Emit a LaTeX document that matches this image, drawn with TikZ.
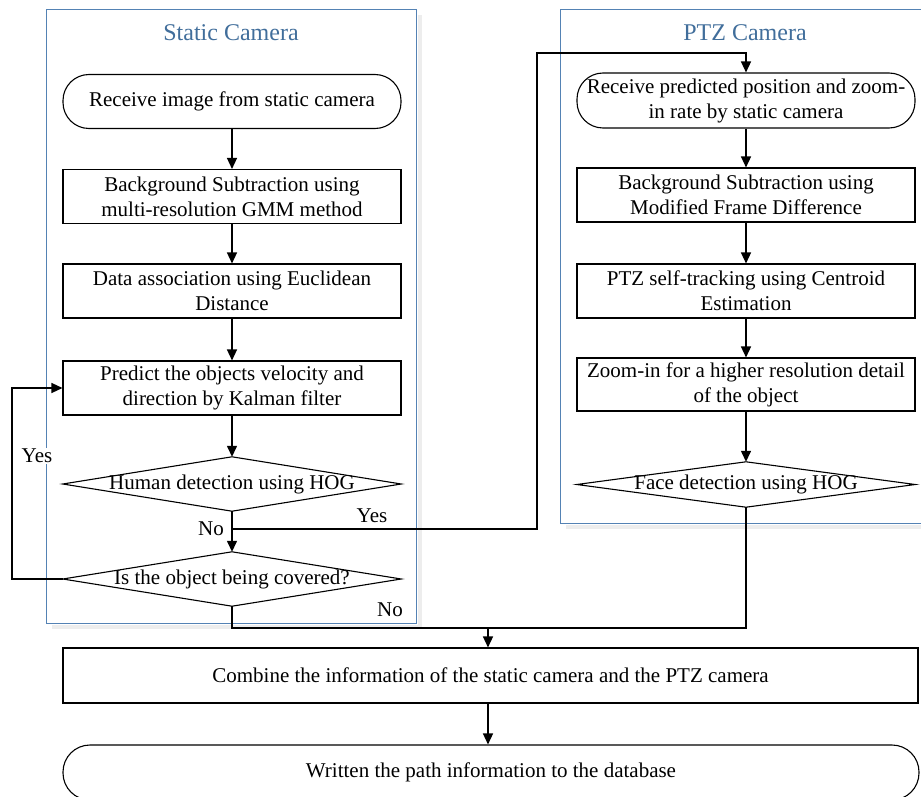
\documentclass[tikz,border=0pt]{standalone}
\usepackage{fontspec}
\setmainfont{Liberation Serif}
\usetikzlibrary{arrows.meta,calc}
\definecolor{cbox}{RGB}{84,130,180}
\definecolor{ctitle}{RGB}{65,110,155}
\begin{document}
\begin{tikzpicture}[x=1pt,y=-1pt,
  font=\fontsize{21}{25}\selectfont,
  proc/.style={draw,line width=1.1pt,minimum width=338pt,minimum height=54pt,align=center,inner sep=2pt},
  term/.style={proc,rounded corners=26pt},
  dec/.style={minimum width=338pt,minimum height=54pt,inner sep=0pt,align=center},
  conn/.style={line width=1.4pt,-{Triangle[length=11pt,width=10pt]}},
  wire/.style={line width=1.4pt},
  lab/.style={fill=white,inner sep=1pt},
  group/.style={draw=cbox,line width=1pt,inner sep=0pt,anchor=north west},
  gshadow/.style={draw=black!7,line width=4pt},
  gtitle/.style={text=ctitle,font=\fontsize{24}{28}\selectfont}]
\useasboundingbox (0,0) rectangle (921,797);
% containers
\node[group,minimum width=370pt,minimum height=614pt] (sc) at (46,9) {};
\node[group,minimum width=370pt,minimum height=514pt] (pc) at (560,9) {};
\draw[gshadow] ($(sc.north east)+(2.5,6)$) -- ($(sc.south east)+(2.5,2.5)$) -- ($(sc.south west)+(6,2.5)$);
\draw[gshadow] ($(pc.south east)+(2.5,2.5)$) -- ($(pc.south west)+(6,2.5)$);
\node[gtitle] (st) at (231,33) {Static Camera};
\node[gtitle] (pt) at (745,33) {PTZ Camera};
% static column
\node[term] (s1) at (232,101.5) {Receive image from static camera};
\node[proc] (s2) at (232,196.5) {Background Subtraction using\\multi-resolution GMM method};
\node[proc] (s3) at (232,291) {Data association using Euclidean\\Distance};
\node[proc] (s4) at (232,388) {Predict the objects velocity and\\direction by Kalman filter};
\node[dec] (s5) at (232,484) {Human detection using HOG};
\node[dec] (s6) at (232,579) {Is the object being covered?};
% PTZ column
\node[term,minimum height=55pt] (p1) at (746,100.5) {Receive predicted position and zoom-\\in rate by static camera};
\node[proc] (p2) at (746,195) {Background Subtraction using\\Modified Frame Difference};
\node[proc] (p3) at (746,291) {PTZ self-tracking using Centroid\\Estimation};
\node[proc,minimum height=53pt] (p4) at (746,384.5) {Zoom-in for a higher resolution detail\\of the object};
\node[dec,minimum height=45pt] (p5) at (746,484.5) {Face detection using HOG};
% bottom
\node[proc,minimum width=855pt,minimum height=55pt] (c1) at (490.5,675.5) {Combine the information of the static camera and the PTZ camera};
\node[term,minimum width=856pt,minimum height=55pt,rounded corners=27pt] (e1) at (491,772.5) {Written the path information to the database};
% diamonds
\foreach \d in {s5,s6,p5}
  \draw[line width=1.1pt] (\d.west)--(\d.north)--(\d.east)--(\d.south)--cycle;
% connectors
\draw[conn] (s1) -- (s2);
\draw[conn] (s2) -- (s3);
\draw[conn] (s3) -- (s4);
\draw[conn] (s4) -- (s5.north);
\draw[conn] (s5.south) -- (s6.north);
\draw[conn] (p1) -- (p2);
\draw[conn] (p2) -- (p3);
\draw[conn] (p3) -- (p4);
\draw[conn] (p4) -- (p5.north);
\coordinate (b) at (232,529);
\coordinate (r1) at (537,529);
\coordinate (r2) at (537,53);
\draw[conn] (b) -- (r1) -- (r2) -| (p1.north);
\coordinate (lx) at (12,579);
\draw[conn] (s6.west) -- (lx) |- (s4.west);
\coordinate (m) at (488,628);
\draw[wire] (s6.south) |- (m) -| (p5.south);
\draw[conn] (m) -- (m |- c1.north);
\draw[conn] (c1.south -| m) -- (m |- e1.north);
% labels
\node[lab] (ly1) at (37,456) {Yes};
\node (ln1) at (211,529) {No};
\node (ly2) at (372,516) {Yes};
\node (ln2) at (390,610) {No};
\end{tikzpicture}
\end{document}
